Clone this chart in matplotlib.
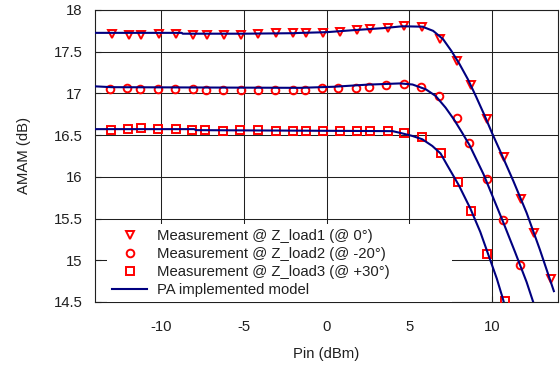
import matplotlib
matplotlib.use("Agg")
import matplotlib.pyplot as plt

plt.rcParams['font.family'] = ['Liberation Sans', 'DejaVu Sans']
plt.rcParams['axes.unicode_minus'] = False

# measured points
pin1 = [-13.0, -11.95, -11.2, -10.15, -9.1, -8.05, -7.2, -6.2, -5.2, -4.15, -3.05, -2.0, -1.25,
        -0.2, 0.8, 1.85, 2.65, 3.7, 4.7, 5.77, 6.87, 7.91, 8.72, 9.72, 10.72, 11.75, 12.55, 13.6]
amam1 = [17.715, 17.70, 17.695, 17.715, 17.715, 17.705, 17.695, 17.70, 17.70, 17.715, 17.72, 17.72, 17.72,
         17.727, 17.74, 17.755, 17.77, 17.786, 17.806, 17.795, 17.655, 17.386, 17.107, 16.69, 16.24, 15.74, 15.33, 14.78]

pin2 = [-13.1, -12.05, -11.25, -10.2, -9.15, -8.1, -7.3, -6.25, -5.2, -4.15, -3.1, -2.05, -1.3,
        -0.3, 0.7, 1.8, 2.6, 3.6, 4.66, 5.71, 6.83, 7.91, 8.63, 9.68, 10.68, 11.69]
amam2 = [17.05, 17.062, 17.053, 17.05, 17.05, 17.05, 17.041, 17.041, 17.037, 17.037, 17.041, 17.041, 17.047,
         17.061, 17.061, 17.069, 17.077, 17.097, 17.109, 17.08, 16.967, 16.71, 16.40, 15.97, 15.48, 14.94]

pin3 = [-13.04, -11.99, -11.21, -10.18, -9.13, -8.13, -7.32, -6.23, -5.23, -4.15, -3.08, -2.03, -1.25,
        -0.22, 0.8, 1.85, 2.66, 3.7, 4.66, 5.77, 6.92, 7.95, 8.73, 9.7, 10.8]
amam3 = [16.56, 16.57, 16.58, 16.575, 16.57, 16.56, 16.56, 16.55, 16.56, 16.56, 16.55, 16.55, 16.55,
         16.55, 16.55, 16.55, 16.55, 16.55, 16.53, 16.48, 16.29, 15.94, 15.59, 15.07, 14.51]

# model curves
mpin1 = [-14, -8.75, -8.7, -5, -2, -1.5, 0, 1.6, 3.4, 4.6, 5.8, 6.45, 7.05, 7.55, 8.05, 8.55,
         9.05, 9.55, 10.0, 10.5, 11.3, 12.1, 12.9, 13.75]
model1 = [17.726, 17.726, 17.716, 17.716, 17.722, 17.726, 17.734, 17.758, 17.782, 17.805, 17.80, 17.75,
          17.65, 17.51, 17.35, 17.17, 16.96, 16.74, 16.53, 16.31, 15.95, 15.57, 15.13, 14.63]

mpin2 = [-14, -13, -6, -1.6, 0.44, 2.45, 4.46, 5.2, 6.0, 6.6, 7.2, 7.7, 8.2, 8.65, 9.5, 10.1,
         10.7, 11.4, 12.1, 12.5, 12.6]
model2 = [17.085, 17.075, 17.07, 17.067, 17.08, 17.105, 17.12, 17.107, 17.05, 16.97, 16.83, 16.69,
          16.53, 16.38, 16.03, 15.74, 15.45, 15.10, 14.74, 14.50, 14.44]

mpin3 = [-14, -8, -7.9, 4.0, 4.5, 5.2, 5.8, 6.4, 6.9, 7.3, 8.0, 8.7, 9.3, 9.8, 10.3, 10.65, 10.75]
model3 = [16.572, 16.572, 16.56, 16.548, 16.525, 16.49, 16.45, 16.37, 16.28, 16.14, 15.90, 15.62,
          15.34, 15.06, 14.78, 14.55, 14.48]

fig = plt.figure(figsize=(5.6, 3.65), dpi=100)
ax = fig.add_axes([95 / 560, 1 - 302 / 365, 463 / 560, 292 / 365])

red = '#ff0000'
navy = '#000080'
mk = dict(linestyle='none', mfc='none', mec=red, mew=1.4, ms=5.5, zorder=3)
ax.plot(pin1, amam1, marker='v', label='Measurement @ Z_load1 (@ 0°)', **mk)
ax.plot(pin2, amam2, marker='o', label='Measurement @ Z_load2 (@ -20°)', **mk)
ax.plot(pin3, amam3, marker='s', label='Measurement @ Z_load3 (@ +30°)', **mk)
ax.plot(mpin1, model1, color=navy, lw=1.5, zorder=4, label='PA implemented model')
ax.plot(mpin2, model2, color=navy, lw=1.5, zorder=4)
ax.plot(mpin3, model3, color=navy, lw=1.5, zorder=4)

ax.set_xlim(-14, 14)
ax.set_ylim(14.5, 18)
ax.set_xticks([-10, -5, 0, 5, 10])
ax.set_yticks([14.5, 15, 15.5, 16, 16.5, 17, 17.5, 18])
ax.set_yticklabels(['14.5', '15', '15.5', '16', '16.5', '17', '17.5', '18'])
ax.grid(True, color='#202020', lw=0.75)
ax.set_axisbelow(True)
for s in ax.spines.values():
    s.set_color('#202020')
    s.set_linewidth(0.8)
ax.tick_params(direction='in', length=4, width=0.8, colors='#202020', labelsize=10.7)
ax.tick_params(axis='y', pad=9)
ax.tick_params(axis='x', pad=13)

ax.set_xlabel('Pin (dBm)', fontsize=10.7, color='#202020', labelpad=9)
ax.set_ylabel('AMAM (dB)', fontsize=10.7, color='#202020', labelpad=16)

leg = ax.legend(loc='lower left', bbox_to_anchor=(0.025, 0.0, 0.746, 0.3), mode='expand',
                borderaxespad=0, borderpad=0.35, numpoints=1, handlelength=2.4,
                handletextpad=0.67, labelspacing=0.26, fontsize=10.7,
                frameon=True, fancybox=False, framealpha=1)
leg.get_frame().set_facecolor('white')
leg.get_frame().set_edgecolor('none')
for t in leg.get_texts():
    t.set_color('#202020')

fig.savefig('out.png', dpi=100)
